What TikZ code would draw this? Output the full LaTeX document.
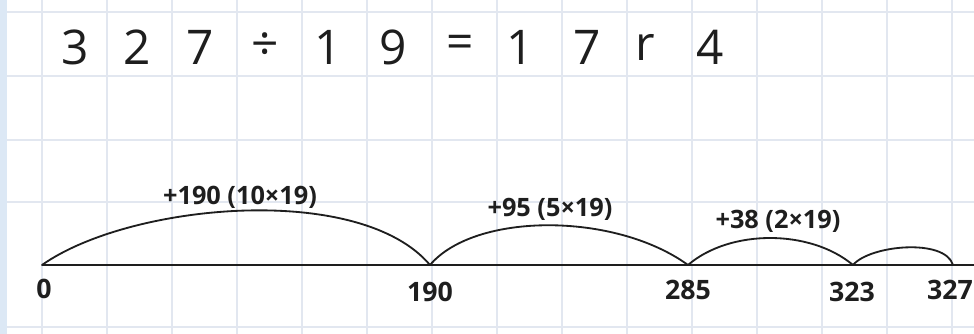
\documentclass[tikz,border=0pt]{standalone}
\usepackage{fontspec}
\setmainfont{Open Sans}
\usepackage{xcolor}
\definecolor{rejilla}{RGB}{226, 231, 240}
\definecolor{franja}{RGB}{220, 232, 245}
\definecolor{tinta}{RGB}{30, 30, 30}

\begin{document}
\begin{tikzpicture}[x=0.025cm, y=-0.025cm,
  cifra/.style={font=\fontsize{34}{34}\selectfont, text=tinta},
  salto/.style={font=\fontsize{18}{18}\selectfont\bfseries, text=tinta},
  marca/.style={font=\fontsize{19}{19}\selectfont\bfseries, text=tinta},
  arco/.style={line width=1.3pt, tinta, line cap=round},
  recta/.style={line width=1.7pt, tinta}
]
\useasboundingbox (0,0) rectangle (974,334);
\fill[white] (0,0) rectangle (974,334);
\fill[franja] (0,0) rectangle (7,334);

% papel cuadriculado
\foreach \x in {42,107,...,974}
  \draw[rejilla, line width=0.8pt] (\x,0) -- (\x,334);
\foreach \y in {12,76,140,202,327}
  \draw[rejilla, line width=0.8pt] (7,\y) -- (974,\y);

% la division
\foreach \c/\x in {3/75, 2/137, 7/200, ÷/265, 1/328, 9/393, =/460, 1/520, 7/587, r/645, 4/710}
  \node[cifra] at (\x,47) {\c};

% recta numerica
\coordinate (n0) at (42,265);
\coordinate (n190) at (430,265);
\coordinate (n285) at (688,265);
\coordinate (n323) at (853,265);
\coordinate (n327) at (953,265);
\coordinate (fin) at (974,265);
\draw[recta] (n0) -- (fin);

\node[marca] (e0) at (44,289) {0};
\node[marca] (e190) at (430,292) {190};
\node[marca] (e285) at (688,290) {285};
\node[marca] (e323) at (852,292) {323};
\node[marca] (e327) at (950,290) {327};

% saltos
\draw[arco] (n0) .. controls (130,203) and (360,182) .. (n190);
\draw[arco] (n190) .. controls (475,212) and (615,212) .. (n285);
\draw[arco] (n285) .. controls (730,229) and (810,229) .. (n323);
\draw[arco] (n323) .. controls (870,245) and (945,238) .. (n327);

\node[salto] (s1) at (240,197) {+190 (10×19)};
\node[salto] (s2) at (550,209) {+95 (5×19)};
\node[salto] (s3) at (778,221) {+38 (2×19)};
\end{tikzpicture}
\end{document}
